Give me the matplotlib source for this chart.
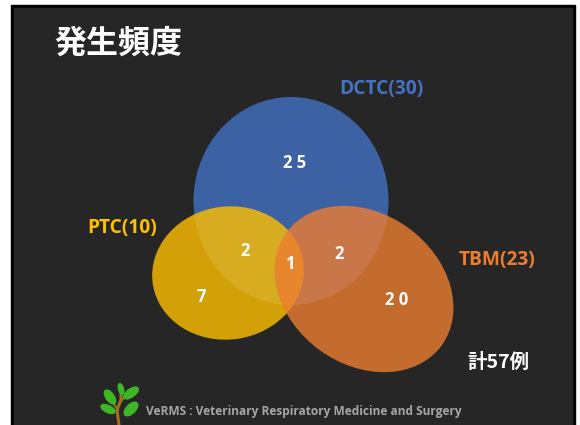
# 発生頻度 venn slide

import matplotlib.pyplot as plt
from matplotlib.patches import Ellipse, Rectangle

plt.rcParams['font.family'] = ['Noto Sans CJK JP', 'DejaVu Sans']

# data
set_names = ['DCTC', 'PTC', 'TBM']
set_totals = [30, 10, 23]
set_colors = ['#4472C4', '#FFC000', '#ED7D31']
region_names = ['DCTC', 'PTC&DCTC', 'ALL', 'DCTC&TBM', 'PTC', 'TBM']
region_counts = [25, 2, 1, 2, 7, 20]
total_cases = sum(region_counts)

# layout (pixel coords, y down)
ellipses = [
    # center, width, height, angle
    ((291, 201), 195, 208, 0),
    ((228, 273), 152, 133, -8),
    ((364, 289), 192, 151, 36),
]
label_pos = [(381, 89), (122, 228), (497, 260)]
region_pos = [(295, 163), (245, 251), (290, 264), (339, 254), (201, 297), (397, 300)]

fig = plt.figure(figsize=(5.8, 4.25), dpi=100)
fig.patch.set_facecolor('white')
ax = fig.add_axes([0, 0, 1, 1])
ax.set_xlim(0, 580)
ax.set_ylim(425, 0)
ax.axis('off')

# slide frame
ax.add_patch(Rectangle((11, 5), 564, 425, color='black', zorder=0))
ax.add_patch(Rectangle((14, 8), 558, 425, color='#262626', zorder=0))

ax.text(54, 44, '発生頻度', color='white', fontsize=23, fontweight='bold',
        va='center', ha='left')

for (c, w, h, a), col in zip(ellipses, set_colors):
    ax.add_patch(Ellipse(c, w, h, angle=a, facecolor=col, alpha=0.8,
                         edgecolor='none', zorder=1))

for name, n, col, (x, y) in zip(set_names, set_totals, set_colors, label_pos):
    ax.text(x, y, f'{name}({n})', color=col, fontsize=13.8, fontweight='bold',
            ha='center', va='center', family=['Open Sans', 'DejaVu Sans'])

for n, (x, y) in zip(region_counts, region_pos):
    s = ' '.join(str(n))
    ax.text(x, y, s, color='white', fontsize=12, fontweight='bold',
            ha='center', va='center', zorder=3, family=['Open Sans', 'DejaVu Sans'])

ax.text(498, 362, f'計{total_cases}例', color='white', fontsize=14,
        fontweight='bold', ha='center', va='center')

# footer logo: small plant
ax.plot([119, 117, 121, 121], [425, 410, 400, 388], color='#A0701E', lw=2.2, zorder=2)
ax.plot([118, 111], [410, 400], color='#A0701E', lw=1.5, zorder=2)
ax.plot([121, 128], [401, 394], color='#A0701E', lw=1.5, zorder=2)
for (cx, cy, w, h, a) in [(110, 397, 16, 8, 55), (131, 393, 17, 8, -35),
                          (131, 409, 17, 9, -45), (108, 409, 15, 7, 25),
                          (121, 389, 11, 5, 75)]:
    ax.add_patch(Ellipse((cx, cy), w, h, angle=a, color='#3DB524', zorder=2))

ax.text(146, 411, 'VeRMS : Veterinary Respiratory Medicine and Surgery',
        color='#A6A6A6', fontsize=8.6, fontweight='bold', ha='left', va='center',
        family=['Open Sans', 'DejaVu Sans'])

fig.savefig('out.png', dpi=100, facecolor=fig.get_facecolor())
